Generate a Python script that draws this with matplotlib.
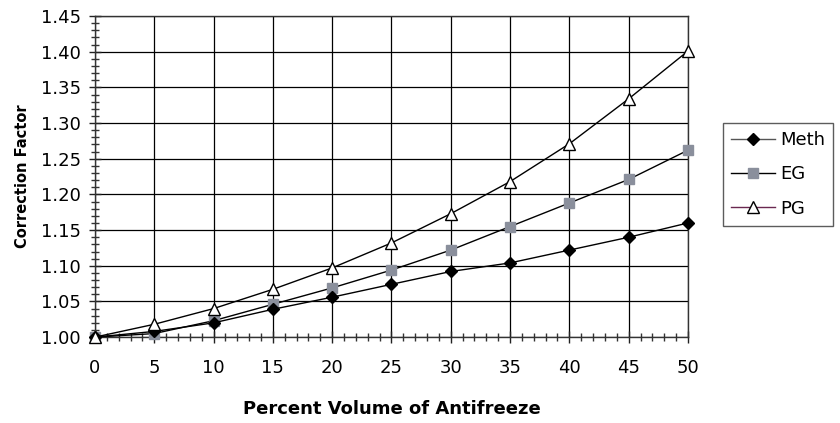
import numpy as np
import matplotlib.pyplot as plt
from matplotlib.lines import Line2D
from matplotlib.ticker import MultipleLocator

# values
percent = [0, 5, 10, 15, 20, 25, 30, 35, 40, 45, 50]
meth = [1.000, 1.008, 1.020, 1.039, 1.056, 1.074, 1.092, 1.104, 1.122, 1.140, 1.160]
eg = [1.000, 1.005, 1.023, 1.046, 1.069, 1.094, 1.122, 1.155, 1.188, 1.221, 1.262]
pg = [1.000, 1.018, 1.040, 1.067, 1.097, 1.132, 1.173, 1.218, 1.271, 1.334, 1.401]
series_names = ['Meth', 'EG', 'PG']

plt.rcParams['font.family'] = 'DejaVu Sans'
fig = plt.figure(figsize=(8.4, 4.23), dpi=100)
ax = fig.add_axes([0.113, 0.203, 0.706, 0.759])

sq_col = '#8a8f9c'
ax.plot(percent, meth, color='black', lw=1, marker='D', ms=6, mfc='black', mec='black', zorder=4, clip_on=False)
ax.plot(percent, eg, color='black', lw=1, marker='s', ms=7.5, mfc=sq_col, mec=sq_col, zorder=3, clip_on=False)
ax.plot(percent, pg, color='black', lw=1, marker='^', ms=8.5, mfc='white', mec='black', mew=1, zorder=5, clip_on=False)

ax.set_xlim(0, 50)
ax.set_ylim(1.0, 1.45)
ax.xaxis.set_major_locator(MultipleLocator(5))
ax.xaxis.set_minor_locator(MultipleLocator(1))
ax.yaxis.set_major_locator(MultipleLocator(0.05))
ax.yaxis.set_minor_locator(MultipleLocator(0.01))
ax.yaxis.set_major_formatter(plt.FormatStrFormatter('%.2f'))
ax.grid(True, which='major', color='black', lw=0.9)
ax.set_axisbelow(True)
for s in ax.spines.values():
    s.set_color('#333333')
    s.set_linewidth(1)
ax.tick_params(which='major', direction='inout', length=8, width=1, labelsize=13, pad=6, colors='#222222', labelcolor='black')
ax.tick_params(which='minor', direction='inout', length=6, width=1, colors='#333333')
ax.tick_params(axis='x', which='major', pad=12)

ax.set_xlabel('Percent Volume of Antifreeze', fontsize=13, fontweight='bold', labelpad=16)
ax.set_ylabel('Correction Factor', fontsize=10.5, fontweight='bold', labelpad=8)

handles = [
    Line2D([], [], color='#555555', lw=1, marker='D', ms=6, mfc='black', mec='black'),
    Line2D([], [], color='black', lw=1, marker='s', ms=7.5, mfc=sq_col, mec=sq_col),
    Line2D([], [], color='#6a2850', lw=1, marker='^', ms=8.5, mfc='white', mec='black'),
]
fig.legend(handles, series_names, loc='upper left', bbox_to_anchor=(0.861, 0.709),
           fontsize=13, frameon=True, fancybox=False, edgecolor='#333333',
           handlelength=2.4, handletextpad=0.3, borderpad=0.45, labelspacing=0.9,
           borderaxespad=0)

fig.savefig('out.png', dpi=100)
